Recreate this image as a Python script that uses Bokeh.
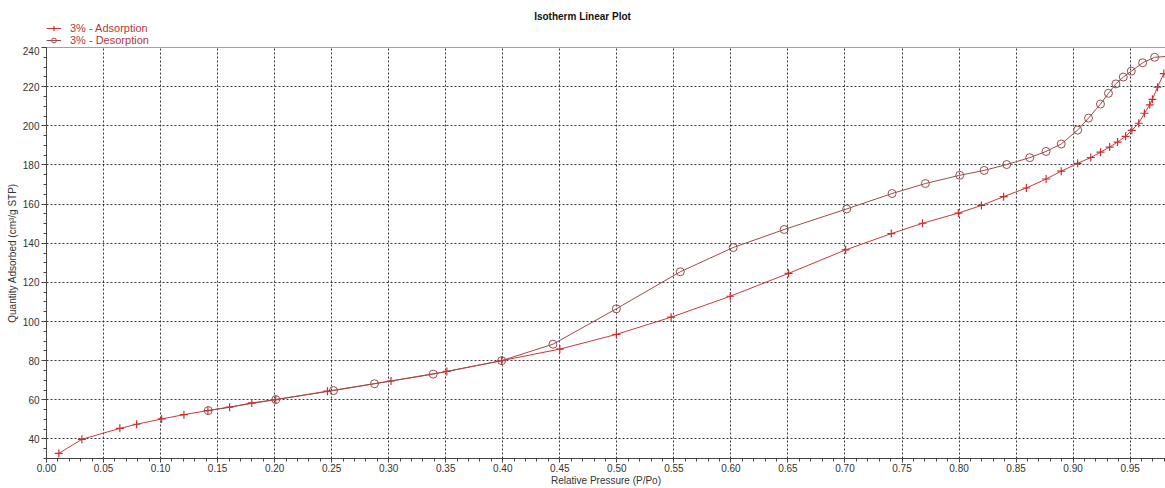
from bokeh.plotting import figure
from bokeh.layouts import column
from bokeh.models import (FixedTicker, Range1d, Span, Label, Legend, LegendItem)
from bokeh.embed import file_html
from bokeh.resources import INLINE

# Isotherm data: relative pressure (P/Po) and quantity adsorbed (cm³/g STP)
ads_p = [0.0108, 0.031, 0.0643, 0.079, 0.101, 0.1205, 0.1415, 0.1605, 0.180, 0.201,
         0.2463, 0.302, 0.351, 0.399, 0.450, 0.4996, 0.5476, 0.5994, 0.6506, 0.7006,
         0.7406, 0.768, 0.7994, 0.8196, 0.8391, 0.859, 0.8763, 0.8896, 0.904, 0.9155,
         0.924, 0.932, 0.939, 0.946, 0.9515, 0.9575, 0.9625, 0.9672, 0.9695, 0.974, 0.9795]
ads_q = [32.6, 39.8, 45.4, 47.5, 50.2, 52.4, 54.5, 56.2, 58.4, 60.1,
         64.4, 69.6, 74.5, 80.0, 85.9, 93.4, 102.2, 112.9, 124.6, 136.6,
         144.9, 150.2, 155.4, 159.3, 163.8, 168.2, 172.8, 176.8, 180.8, 183.8,
         186.5, 189.1, 191.7, 194.6, 197.7, 201.3, 206.4, 210.7, 213.5, 219.7, 226.7]

des_p = [0.99, 0.9715, 0.961, 0.951, 0.944, 0.9375, 0.931, 0.924, 0.9135, 0.904,
         0.8896, 0.8763, 0.862, 0.8418, 0.822, 0.8006, 0.7705, 0.7413, 0.7015, 0.6467,
         0.602, 0.5556, 0.4996, 0.444, 0.399, 0.339, 0.2875, 0.2516, 0.201, 0.1418]
des_q = [235.8, 235.0, 232.2, 227.9, 224.9, 221.4, 216.6, 211.1, 203.9, 197.8,
         190.7, 186.9, 183.7, 180.2, 177.2, 174.7, 170.5, 165.4, 157.5, 147.0,
         137.8, 125.4, 106.5, 88.4, 80.0, 73.1, 68.2, 64.7, 60.1, 54.5]

x_ticks = [0.00, 0.05, 0.10, 0.15, 0.20, 0.25, 0.30, 0.35, 0.40, 0.45,
           0.50, 0.55, 0.60, 0.65, 0.70, 0.75, 0.80, 0.85, 0.90, 0.95]
x_tick_labels = ["0.00", "0.05", "0.10", "0.15", "0.20", "0.25", "0.30", "0.35", "0.40", "0.45",
                 "0.50", "0.55", "0.60", "0.65", "0.70", "0.75", "0.80", "0.85", "0.90", "0.95"]
x_minor = [round(i * 0.01, 2) for i in range(0, 99)]
y_ticks = [40, 60, 80, 100, 120, 140, 160, 180, 200, 220, 240]
y_tick_labels = [str(v) for v in y_ticks]
y_minor = list(range(30, 245, 5))

series_labels = ["3% - Adsorption", "3% - Desorption"]
title_text = "Isotherm Linear Plot"

ADS_COLOR = "#d42a2a"
ADS_LINE = "#c83a3a"
DES_COLOR = "#9a4c4c"
TEXT_RED = "#b03838"
FONT = "Liberation Sans"

W = 1165
LEFT = 46
HEAD_H = 46
MAIN_H = 488 - HEAD_H


def draw_series(fig):
    """Adsorption and desorption branches; returns the renderers for the legend."""
    a_line = fig.line(ads_p, ads_q, line_color=ADS_LINE, line_width=1)
    a_pts = fig.scatter(ads_p, ads_q, marker="cross", size=8, line_color=ADS_COLOR, line_width=1.2)
    d_line = fig.line(des_p, des_q, line_color=DES_COLOR, line_width=1)
    d_pts = fig.scatter(des_p, des_q, marker="circle", size=8, fill_color=None,
                        line_color=DES_COLOR, line_width=1)
    return a_line, a_pts, d_line, d_pts


# ---- main plot ----
p = figure(width=W, height=MAIN_H, output_backend="svg", toolbar_location=None,
           x_range=Range1d(0, 0.981), y_range=Range1d(30, 240),
           min_border_left=LEFT, min_border_right=0, min_border_top=1, min_border_bottom=26)
p.outline_line_color = None
p.background_fill_color = "white"
p.border_fill_color = "white"

for ax in (p.xaxis[0], p.yaxis[0]):
    ax.axis_line_color = "#444444"
    ax.major_tick_line_color = "#444444"
    ax.minor_tick_line_color = "#444444"
    ax.major_tick_in = 0
    ax.minor_tick_in = 0
    ax.major_tick_out = 5
    ax.minor_tick_out = 3
    ax.major_label_text_font = FONT
    ax.major_label_text_font_size = "10px"
    ax.major_label_text_color = "#333333"
    ax.axis_label_text_font = FONT
    ax.axis_label_text_font_size = "10px"
    ax.axis_label_text_font_style = "normal"
    ax.axis_label_text_color = "#333333"

p.xaxis.ticker = FixedTicker(ticks=x_ticks, minor_ticks=x_minor)
p.xaxis.major_label_overrides = dict(zip(x_ticks, x_tick_labels))
p.xaxis.major_tick_out = 4
p.xaxis.major_label_standoff = 1
p.xaxis.axis_label = "Relative Pressure (P/Po)"
p.xaxis.axis_label_standoff = 0
p.yaxis.ticker = FixedTicker(ticks=y_ticks, minor_ticks=y_minor)
p.yaxis.major_label_overrides = dict(zip(y_ticks, y_tick_labels))
p.yaxis.major_label_standoff = 2
p.yaxis.axis_label = "Quantity Adsorbed (cm³/g STP)"
p.yaxis.axis_label_standoff = 2

# dotted grid
for g in (p.xgrid[0], p.ygrid[0]):
    g.grid_line_color = "#222222"
    g.grid_line_dash = "2 2"
    g.grid_line_width = 1
    g.grid_line_alpha = 0.9
p.xgrid.ticker = FixedTicker(ticks=x_ticks)
p.ygrid.ticker = FixedTicker(ticks=y_ticks[:-1])

# top frame line
p.add_layout(Span(location=240, dimension="width", line_color="#444444", line_width=1))

draw_series(p)

# ---- header strip with title and legend ----
# the series are drawn here too, below this strip's visible range, so the legend
# shows their line and marker styles
head = figure(width=W, height=HEAD_H, output_backend="svg", toolbar_location=None,
              x_range=Range1d(0, 1), y_range=Range1d(1000, 1001),
              min_border=0, min_border_left=0, min_border_right=0,
              min_border_top=0, min_border_bottom=0,
              x_axis_type=None, y_axis_type=None)
head.outline_line_color = None
head.grid.visible = False
head.border_fill_color = "white"
head.background_fill_color = "white"

la, lb, lc, ld = draw_series(head)

legend = Legend(items=[LegendItem(label=series_labels[0], renderers=[la, lb]),
                       LegendItem(label=series_labels[1], renderers=[lc, ld])],
                location=(0, 0), orientation="vertical",
                label_text_font=FONT, label_text_font_size="11px", label_text_color=TEXT_RED,
                glyph_width=15, glyph_height=12, label_height=12, label_standoff=9,
                spacing=0, padding=0, margin=0,
                border_line_color=None, background_fill_alpha=0)
head.add_layout(legend)

# the strip's frame lines up with the main plot's frame, so screen x is offset by LEFT
head.add_layout(Label(x=582 - LEFT, y=HEAD_H - 16, x_units="screen", y_units="screen",
                      text=title_text, text_align="center", text_baseline="middle",
                      text_font=FONT, text_font_size="10px", text_font_style="bold",
                      text_color="#111111"))

layout = column(head, p, spacing=0)
open("out.html", "w").write(file_html(layout, INLINE))
